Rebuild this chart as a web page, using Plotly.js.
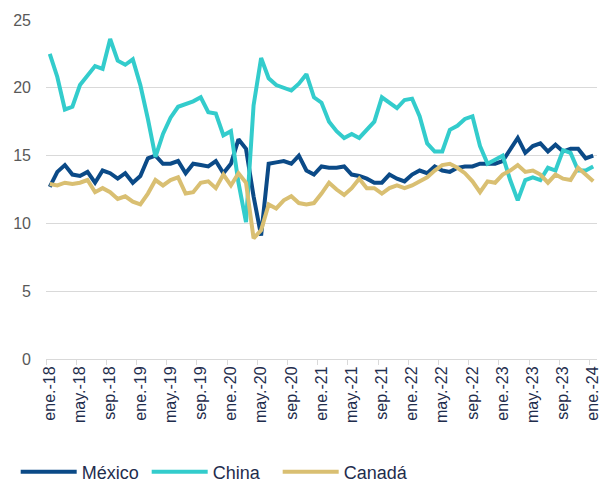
<!DOCTYPE html>
<html>
<head>
<meta charset="utf-8">
<script src="https://cdn.plot.ly/plotly-3.0.1.min.js"></script>
<style>html,body{margin:0;padding:0;background:#fff;}#chart{width:600px;height:485px;}</style>
</head>
<body>
<div id="chart"></div>
<script>
var monthNames = ["ene.", "feb.", "mar.", "abr.", "may.", "jun.", "jul.", "ago.", "sep.", "oct.", "nov.", "dic."];
var years = ["18", "19", "20", "21", "22", "23", "24"];
var categories = [];
for (var y = 0; y < years.length; y++) {
  for (var m = 0; m < 12; m++) {
    if (y === years.length - 1 && m > 0) break;
    categories.push(monthNames[m] + "-" + years[y]);
  }
}

var mexico = [12.7, 13.8, 14.3, 13.6, 13.5, 13.8, 13.0, 13.9, 13.7, 13.3, 13.7, 13.0,
  13.5, 14.8, 15.0, 14.4, 14.4, 14.6, 13.7, 14.4, 14.3, 14.2, 14.6, 13.7,
  14.4, 16.2, 15.5, 12.0, 9.1, 14.4, 14.5, 14.6, 14.4, 15.0, 13.9, 13.6,
  14.2, 14.1, 14.1, 14.2, 13.6, 13.5, 13.3, 13.0, 13.0, 13.6, 13.3, 13.1,
  13.6, 13.9, 13.7, 14.2, 13.9, 13.8, 14.1, 14.2, 14.2, 14.4, 14.4, 14.4,
  14.6, 15.4, 16.3, 15.2, 15.7, 15.9, 15.3, 15.8, 15.3, 15.5, 15.5, 14.8,
  15.0];

var china = [22.5, 20.8, 18.4, 18.6, 20.2, 20.9, 21.6, 21.4, 23.6, 22.0, 21.7, 22.1,
  20.2, 17.7, 14.9, 16.6, 17.8, 18.6, 18.8, 19.0, 19.3, 18.2, 18.1, 16.5,
  16.8, 13.0, 10.1, 18.7, 22.2, 20.7, 20.2, 20.0, 19.8, 20.3, 21.0, 19.3,
  18.9, 17.5, 16.8, 16.3, 16.6, 16.3, 16.9, 17.5, 19.3, 18.9, 18.5, 19.1,
  19.2, 17.9, 15.9, 15.3, 15.3, 16.9, 17.2, 17.7, 17.9, 15.7, 14.4, 14.7,
  15.0, 13.2, 11.7, 13.2, 13.4, 13.2, 14.1, 13.9, 15.4, 15.2, 13.9, 13.9,
  14.2];

var canada = [12.9, 12.8, 13.0, 12.9, 13.0, 13.2, 12.3, 12.6, 12.3, 11.8, 12.0, 11.6,
  11.4, 12.2, 13.2, 12.8, 13.2, 13.4, 12.2, 12.3, 13.0, 13.1, 12.6, 13.6,
  12.8, 13.7, 13.0, 8.9, 9.5, 11.4, 11.1, 11.7, 12.0, 11.5, 11.4, 11.5,
  12.2, 13.0, 12.5, 12.1, 12.6, 13.3, 12.6, 12.6, 12.2, 12.6, 12.8, 12.6,
  12.8, 13.1, 13.4, 13.9, 14.3, 14.4, 14.1, 13.7, 13.1, 12.3, 13.1, 13.0,
  13.6, 13.9, 14.3, 13.8, 13.9, 13.6, 13.0, 13.6, 13.3, 13.2, 14.1, 13.6,
  13.1];

var seriesNames = ["México", "China", "Canadá"];
var seriesColors = ["#0b4a87", "#33cccc", "#d9bf72"];
var seriesData = [mexico, china, canada];

var traces = seriesData.map(function (vals, k) {
  return {
    x: categories,
    y: vals,
    type: "scatter",
    mode: "lines",
    name: seriesNames[k],
    line: { color: seriesColors[k], width: 4 }
  };
});

var layout = {
  width: 600,
  height: 485,
  margin: { l: 46, r: 3, t: 20, b: 126, autoexpand: false },
  paper_bgcolor: "#ffffff",
  plot_bgcolor: "#ffffff",
  font: { family: "Liberation Sans, Arial, sans-serif", size: 16, color: "#595959" },
  showlegend: true,
  legend: {
    orientation: "h",
    x: -0.055,
    xanchor: "left",
    y: -0.3333,
    yanchor: "middle",
    font: { size: 18, color: "#1f2d4d" },
    itemwidth: 56,
    entrywidth: 60,
    entrywidthmode: "pixels",
    tracegroupgap: 0
  },
  xaxis: {
    type: "category",
    range: [-0.5, categories.length - 0.5],
    tickmode: "linear",
    tick0: 0,
    dtick: 4,
    tickson: "boundaries",
    ticks: "outside",
    ticklen: 5,
    tickcolor: "#d9d9d9",
    tickangle: -90,
    showgrid: false,
    showline: true,
    linecolor: "#d9d9d9",
    linewidth: 1,
    zeroline: false,
    automargin: false,
    tickfont: { size: 16, color: "#1f2d4d" }
  },
  yaxis: {
    range: [0, 25],
    tickmode: "linear",
    tick0: 0,
    dtick: 5,
    showgrid: true,
    gridcolor: "#d9d9d9",
    gridwidth: 1,
    zeroline: false,
    showline: false,
    ticks: "",
    automargin: false,
    ticklabelstandoff: 14,
    tickfont: { size: 16, color: "#595959" }
  }
};

Plotly.newPlot("chart", traces, layout, { displayModeBar: false, staticPlot: true });
</script>
</body>
</html>
